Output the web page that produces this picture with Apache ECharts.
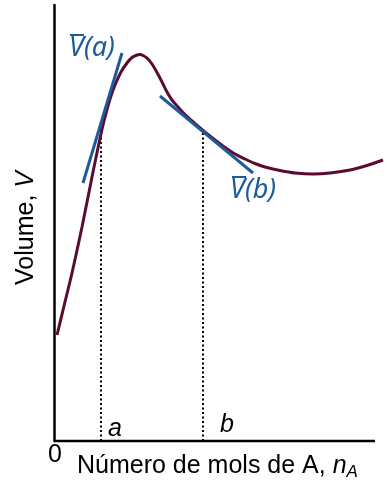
<!DOCTYPE html>
<html><head><meta charset="utf-8">
<script src="https://cdn.jsdelivr.net/npm/echarts@6/dist/echarts.min.js"></script>
<style>html,body{margin:0;padding:0;background:#fff}#c{width:392px;height:482px}</style>
</head><body><div id="c"></div>
<script>
// Curve: number of moles of A (arbitrary units) vs volume (arbitrary units)
const curveX = [3, 10, 18, 28, 38, 45, 50, 56, 61, 67, 73, 78, 83, 86, 90, 93, 98, 103, 108, 113, 118, 124, 131, 141, 149, 161, 171, 181, 191, 201, 211, 226, 241, 259, 276, 296, 316, 329];
const curveY = [106, 135, 168, 214, 264, 298, 320, 342, 356, 369, 378, 383.5, 386, 386.5, 385, 383, 377, 368.5, 359, 349, 341, 334, 326.5, 317.5, 310.5, 301, 293.5, 287, 282, 277.5, 274, 270.5, 268, 267, 268, 271, 276.5, 281];
// Tangent lines (partial molar volume at a and b)
const tangentAX = [29, 68];
const tangentAY = [258, 388];
const tangentBX = [106, 199];
const tangentBY = [345, 268];
// Points a and b
const pointA = [47, 313];
const pointB = [149, 310];
const xAxisEnd = 321;
const xMax = 329, yMax = 436;
const tickLabels = ['0', 'a', 'b'];
const labelA = 'V(a)', labelB = 'V(b)';

const maroon = '#5a0b30', blue = '#1d5b9b';
const pairs = (xs, ys) => xs.map((x, i) => [x, ys[i]]);

const chart = echarts.init(document.getElementById('c'));
chart.setOption({
  animation: false,
  grid: {left: 54, right: 9, top: 5, bottom: 41},
  xAxis: {type: 'value', min: 0, max: xMax, axisLine: {show: false}, axisTick: {show: false}, axisLabel: {show: false}, splitLine: {show: false}},
  yAxis: {type: 'value', min: 0, max: yMax, axisLine: {show: true, onZero: false, lineStyle: {color: '#000', width: 2.5}}, axisTick: {show: false}, axisLabel: {show: false}, splitLine: {show: false}},
  series: [
    {type: 'line', data: [[0, 0], [xAxisEnd, 0]], symbol: 'none', clip: false, lineStyle: {color: '#000', width: 2.5}},
    {type: 'line', data: [[pointA[0], 0], pointA], symbol: 'none', lineStyle: {color: '#000', width: 2, type: [2, 2.5]}},
    {type: 'line', data: [[pointB[0], 0], pointB], symbol: 'none', lineStyle: {color: '#000', width: 2, type: [2, 2.5]}},
    {type: 'line', data: pairs(curveX, curveY), symbol: 'none', smooth: 0.3, clip: false, lineStyle: {color: maroon, width: 3}},
    {type: 'line', data: pairs(tangentAX, tangentAY), symbol: 'none', lineStyle: {color: blue, width: 3}},
    {type: 'line', data: pairs(tangentBX, tangentBY), symbol: 'none', lineStyle: {color: blue, width: 3}}
  ],
  graphic: [
    {type: 'text', x: 55, y: 455, style: {text: tickLabels[0], font: '25px "Liberation Sans"', fill: '#000', textAlign: 'center', textVerticalAlign: 'middle'}},
    {type: 'text', x: 108, y: 429, style: {text: tickLabels[1], font: 'italic 25px "Liberation Sans"', fill: '#000', textAlign: 'left', textVerticalAlign: 'middle'}},
    {type: 'text', x: 220, y: 425, style: {text: tickLabels[2], font: 'italic 25px "Liberation Sans"', fill: '#000', textAlign: 'left', textVerticalAlign: 'middle'}},
    {type: 'text', x: 77, y: 466, style: {
      text: '{m|Número de mols de A, }{n|n}{s|A}',
      textVerticalAlign: 'middle', textAlign: 'left',
      rich: {
        m: {font: '25px "Liberation Sans"', fill: '#000', lineHeight: 30},
        n: {font: 'italic 25px "Liberation Sans"', fill: '#000', lineHeight: 30},
        s: {font: 'italic 17px "Liberation Sans"', fill: '#000', lineHeight: 30, verticalAlign: 'bottom', padding: [12, 0, 0, 0]}
      }}},
    {type: 'text', x: 26, y: 228, rotation: Math.PI / 2, style: {
      text: '{m|Volume, }{n|V}', textAlign: 'center', textVerticalAlign: 'middle',
      rich: {m: {font: '25px "Liberation Sans"', fill: '#000'}, n: {font: 'italic 25px "Liberation Sans"', fill: '#000'}}}},
    {type: 'text', x: 69, y: 48, style: {text: labelA, font: 'italic 27px "Noto Sans"', fill: blue, textAlign: 'left', textVerticalAlign: 'middle'}},
    {type: 'line', shape: {x1: 70, y1: 35, x2: 84, y2: 35}, style: {stroke: blue, lineWidth: 2}},
    {type: 'text', x: 230, y: 190, style: {text: labelB, font: 'italic 27px "Noto Sans"', fill: blue, textAlign: 'left', textVerticalAlign: 'middle'}},
    {type: 'line', shape: {x1: 232, y1: 177, x2: 246, y2: 177}, style: {stroke: blue, lineWidth: 2}}
  ]
});
</script></body></html>
